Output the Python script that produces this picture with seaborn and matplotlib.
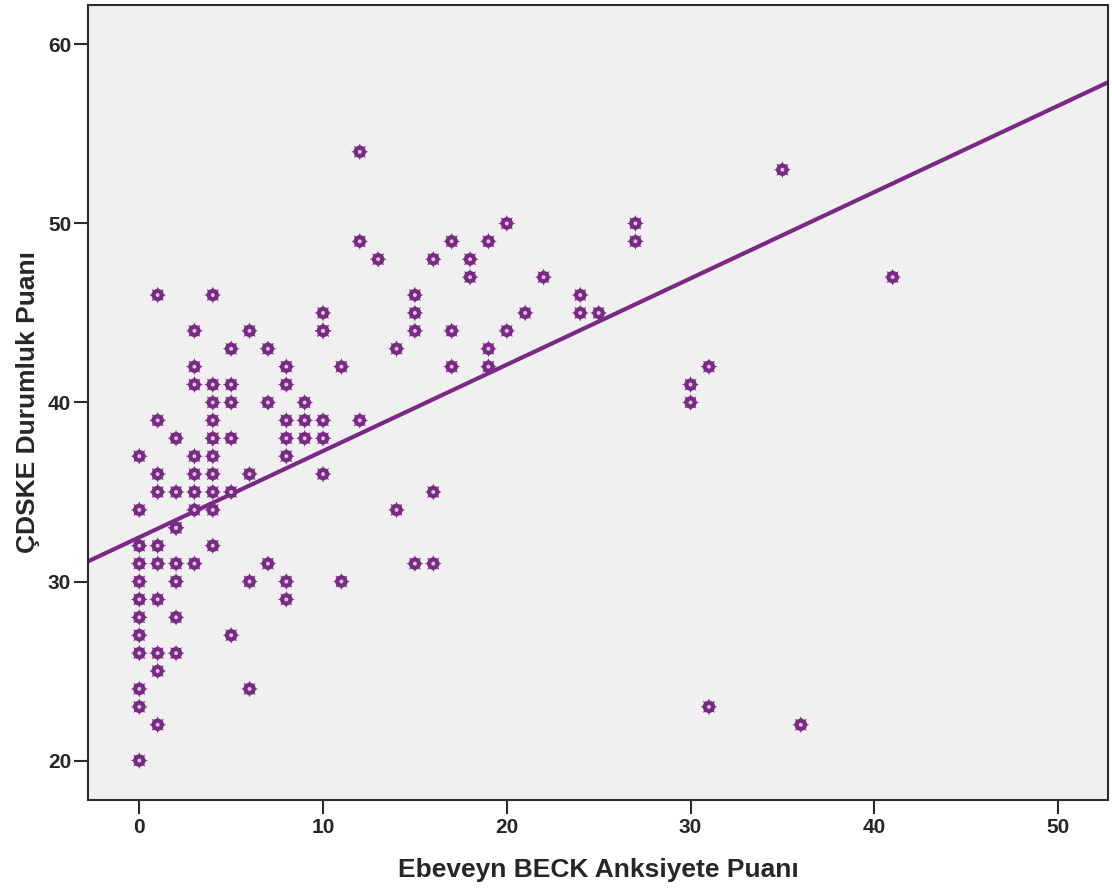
import numpy as np
import pandas as pd
import matplotlib
matplotlib.use("Agg")
import matplotlib.pyplot as plt
import seaborn as sns

# ---- data (x: parent BECK score, y: CDSKE score) ----
beck = [0]*12 + [1]*10 + [2]*8 + [3]*8 + [4]*11 + [5]*6 + [6]*4 + [7]*3 \
     + [8]*7 + [9]*3 + [10]*6 + [11]*2 + [12]*3 + [13] + [14]*2 + [15]*4 \
     + [16]*3 + [17]*3 + [18]*2 + [19]*3 + [20]*2 + [21] + [22] + [24]*2 \
     + [25] + [27]*2 + [30]*2 + [31]*2 + [35] + [36] + [41]
cdske = [37, 34, 32, 31, 30, 29, 28, 27, 26, 24, 23, 20,          # 0
         46, 39, 36, 35, 32, 31, 29, 26, 25, 22,                  # 1
         38, 35, 33, 33, 31, 30, 28, 26,                          # 2
         44, 42, 41, 37, 36, 35, 34, 31,                          # 3
         46, 41, 40, 39, 38, 37, 36, 35, 34, 32, 38,              # 4
         43, 41, 40, 38, 35, 27,                                  # 5
         44, 36, 30, 24,                                          # 6
         43, 40, 31,                                              # 7
         42, 41, 39, 38, 37, 30, 29,                              # 8
         40, 39, 38,                                              # 9
         45, 44, 39, 38, 36, 44,                                  # 10
         42, 30,                                                  # 11
         54, 49, 39,                                              # 12
         48,                                                      # 13
         43, 34,                                                  # 14
         46, 45, 44, 31,                                          # 15
         48, 35, 31,                                              # 16
         49, 44, 42,                                              # 17
         48, 47,                                                  # 18
         49, 43, 42,                                              # 19
         50, 44,                                                  # 20
         45, 47,                                                  # 21, 22
         46, 45, 45,                                              # 24, 25
         50, 49,                                                  # 27
         41, 40,                                                  # 30
         42, 23,                                                  # 31
         53, 22, 47]                                              # 35, 36, 41

# fit line as drawn in the reference
fit_intercept = 32.47
fit_slope = 0.482

x_ticks = [0, 10, 20, 30, 40, 50]
y_ticks = [20, 30, 40, 50, 60]

df = pd.DataFrame({"beck": beck, "cdske": cdske})

PURPLE = "#7a2a84"
BG = "#f0f0f0"
EDGE = "#2b2b2b"

sns.set_style("white")
plt.rcParams['font.family'] = ['Liberation Sans', 'DejaVu Sans']

fig = plt.figure(figsize=(11.12, 8.93), dpi=100)
ax = fig.add_axes([0.079, 0.1042, 0.9174, 0.8902])
ax.set_facecolor(BG)
ax.set_xlim(-2.8, 52.72)
ax.set_ylim(17.8, 62.2)

# regression line across the full axis
ax.axline((0, fit_intercept), slope=fit_slope, color=PURPLE, lw=3, zorder=2)

# gear-like markers: star + disc + light centre
sns.scatterplot(data=df, x="beck", y="cdske", ax=ax, marker=(8, 1, 0), s=150,
                color=PURPLE, edgecolor="none", linewidth=0, zorder=3)
sns.scatterplot(data=df, x="beck", y="cdske", ax=ax, marker="o", s=80,
                color=PURPLE, edgecolor="none", linewidth=0, zorder=4)
sns.scatterplot(data=df, x="beck", y="cdske", ax=ax, marker="o", s=8,
                color="#d9c6dc", edgecolor="none", linewidth=0, zorder=5)

ax.set_xticks(x_ticks)
ax.set_yticks(y_ticks)
ax.tick_params(axis="both", direction="out", length=10, width=1.5,
               color=EDGE, labelsize=15, bottom=True, left=True,
               top=False, right=False)
ax.tick_params(axis="x", pad=3)
ax.tick_params(axis="y", pad=2)
for lab in ax.get_xticklabels() + ax.get_yticklabels():
    lab.set_fontweight("bold")
    lab.set_family(['Liberation Sans Narrow', 'Liberation Sans', 'DejaVu Sans'])

for sp in ax.spines.values():
    sp.set_color(EDGE)
    sp.set_linewidth(1.5)

ax.set_xlabel("Ebeveyn BECK Anksiyete Puanı", fontsize=19, fontweight="bold",
              labelpad=15)
ax.set_ylabel("ÇDSKE Durumluk Puanı", fontsize=19, fontweight="bold",
              labelpad=6)

fig.savefig("out.png", dpi=100, facecolor="white")
